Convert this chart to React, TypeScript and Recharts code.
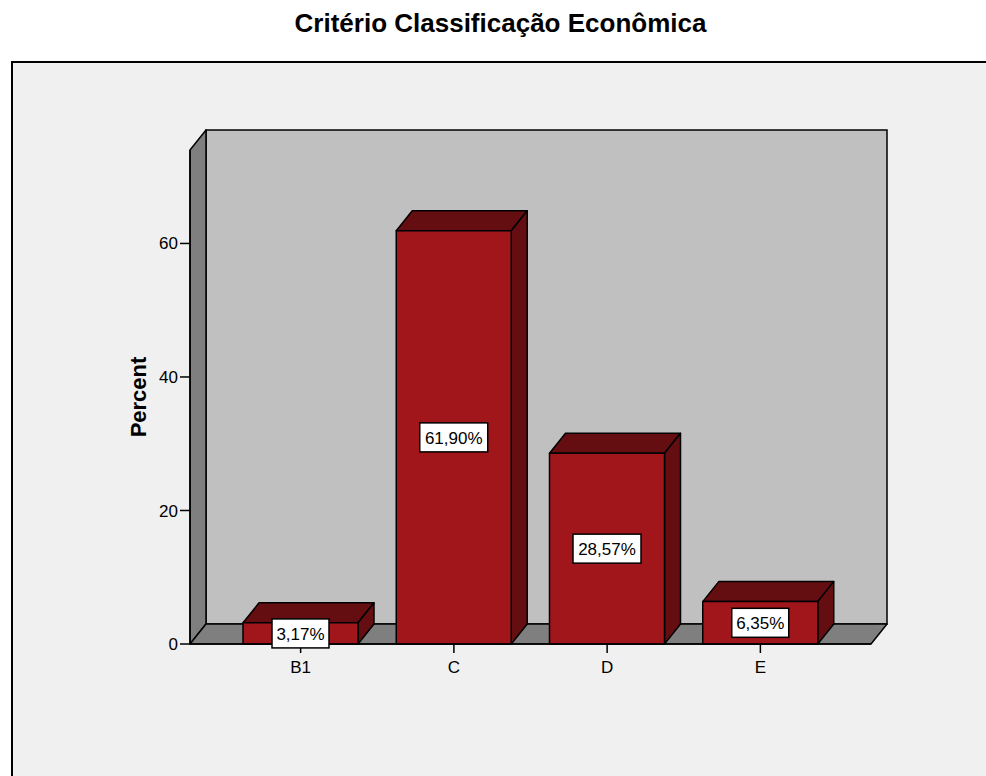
import React from 'react';
import { BarChart, Bar, XAxis, YAxis, ReferenceArea, LabelList } from 'recharts';

const categories = ['B1', 'C', 'D', 'E'];
const percents = [3.17, 61.9, 28.57, 6.35];
const yTicks = [0, 20, 40, 60];
const yMax = 74;

const data = categories.map((name, i) => ({ name, percent: percents[i] }));

const FONT = '"Liberation Sans", Arial, sans-serif';
const DX = 16;
const DY = -20;
const PAD = 34;

const fmt = (v: number) => v.toFixed(2).replace('.', ',') + '%';

// back wall, left wall and floor of the 3D box (area spans the padded x range too)
const Walls = (props: any) => {
  const x = props.x - PAD;
  const width = props.width + PAD * 2;
  const { y, height } = props;
  const b = y + height;
  return (
    <g>
      <rect x={x + DX} y={y + DY} width={width} height={height} fill="#c0c0c0" stroke="#000" strokeWidth={1.5} />
      <polygon
        points={`${x},${b} ${x},${y} ${x + DX},${y + DY} ${x + DX},${b + DY}`}
        fill="#7f7f7f" stroke="#000" strokeWidth={1.5} strokeLinejoin="round"
      />
      <polygon
        points={`${x},${b} ${x + DX},${b + DY} ${x + width + DX},${b + DY} ${x + width},${b}`}
        fill="#7f7f7f" stroke="#000" strokeWidth={1.5} strokeLinejoin="round"
      />
    </g>
  );
};

const Bar3D = (props: any) => {
  const { x, y, width, height } = props;
  if (height == null || width == null) return null;
  return (
    <g stroke="#000" strokeWidth={1.5} strokeLinejoin="round">
      <polygon
        points={`${x},${y} ${x + DX},${y + DY} ${x + width + DX},${y + DY} ${x + width},${y}`}
        fill="#650e11"
      />
      <polygon
        points={`${x + width},${y} ${x + width + DX},${y + DY} ${x + width + DX},${y + height + DY} ${x + width},${y + height}`}
        fill="#650e11"
      />
      <rect x={x} y={y} width={width} height={height} fill="#a0161b" />
    </g>
  );
};

const ValueBox = (props: any) => {
  const vb = props.viewBox || props;
  const { x, y, width, height } = vb;
  const text = fmt(Number(props.value));
  const w = text.length * 11 + 2;
  const h = 29;
  const cx = x + width / 2;
  const cy = y + height / 2;
  return (
    <g>
      <rect x={cx - w / 2} y={cy - h / 2} width={w} height={h} fill="#fff" stroke="#000" strokeWidth={1.5} />
      <text x={cx} y={cy} dy="0.36em" textAnchor="middle" fontSize={17} fontFamily={FONT} fill="#000">
        {text}
      </text>
    </g>
  );
};

export default function App() {
  return (
    <div style={{ position: 'absolute', left: 0, top: 0, width: 986, height: 776, overflow: 'hidden', background: '#fff' }}>
      <div
        style={{
          position: 'absolute', left: 0, top: 10, width: 1001, textAlign: 'center',
          fontFamily: FONT, fontWeight: 'bold', fontSize: 26, lineHeight: '26px', color: '#000',
        }}
      >
        Critério Classificação Econômica
      </div>
      <div
        style={{
          position: 'absolute', left: 11, top: 61, width: 1000, height: 800,
          border: '2px solid #000', background: '#f0f0f0',
        }}
      />
      <div style={{ position: 'absolute', left: 0, top: 0 }}>
        <BarChart
          width={986}
          height={776}
          data={data}
          margin={{ top: 150, right: 115, bottom: 92, left: 120 }}
        >
          <ReferenceArea y1={0} y2={yMax} shape={Walls} ifOverflow="visible" />
          <XAxis
            dataKey="name"
            padding={{ left: PAD, right: PAD }}
            height={40}
            axisLine={{ stroke: '#000', strokeWidth: 1.5 }}
            tickLine={{ stroke: '#000', strokeWidth: 1.5 }}
            tickSize={9}
            tickMargin={8}
            tick={{ fill: '#000', fontSize: 17, fontFamily: FONT }}
          />
          <YAxis
            domain={[0, yMax]}
            ticks={yTicks}
            width={70}
            axisLine={{ stroke: '#000', strokeWidth: 1.5 }}
            tickLine={{ stroke: '#000', strokeWidth: 1.5 }}
            tickSize={10}
            tickMargin={2}
            tick={{ fill: '#000', fontSize: 17, fontFamily: FONT }}
            label={{
              value: 'Percent',
              angle: -90,
              position: 'insideLeft',
              offset: 18,
              style: { textAnchor: 'middle', fontSize: 22, fontWeight: 'bold', fontFamily: FONT, fill: '#000' },
            }}
          />
          <Bar dataKey="percent" barSize={115} shape={Bar3D} isAnimationActive={false}>
            <LabelList dataKey="percent" content={ValueBox} />
          </Bar>
        </BarChart>
      </div>
    </div>
  );
}
